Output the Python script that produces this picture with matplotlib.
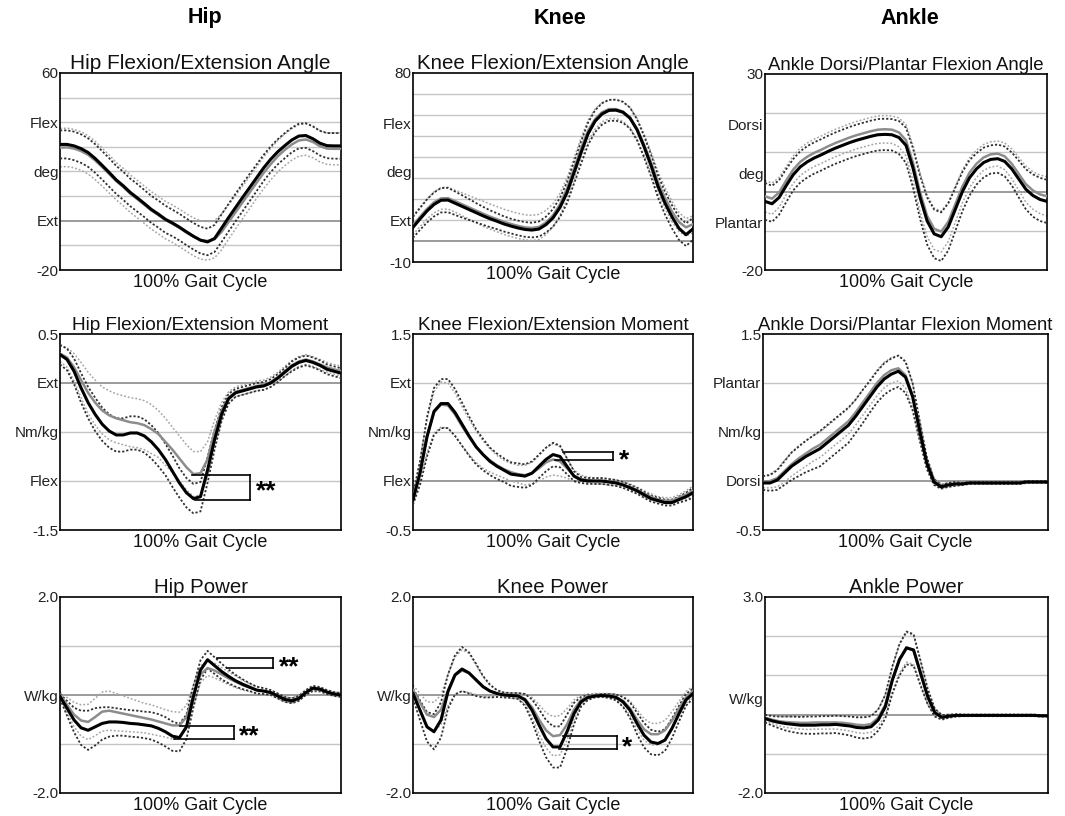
import numpy as np
import matplotlib
matplotlib.use('Agg')
import matplotlib.pyplot as plt

plt.rcParams['font.family'] = ['Liberation Sans', 'DejaVu Sans']

# gait cycle sampling (%)
pct = np.arange(0, 100.1, 2.5)

# ---- data: mean / SD for group A (black) and group B (grey)
hip_ang_a = [31, 31, 30.4, 29.3, 27.7, 25.3, 22.5, 19.6, 16.6, 14.2, 11.5, 9.3, 7, 4.6, 2.7, 0.6, -0.9, -2.6, -4.5, -6.3,
             -7.9, -8.6, -7.2, -3, 1.3, 5.4, 9.5, 13.5, 17.5, 21.5, 25, 28, 30.5, 32.8, 34.4, 34.6, 33.3, 31.5, 30.5, 30.4, 30.4]
hip_ang_b = [29.7, 29.8, 29.3, 28.3, 26.8, 24.5, 21.8, 19, 16.1, 13.7, 11, 8.8, 6.5, 4.2, 2.3, 0.3, -1.2, -2.9, -4.8, -6.5,
             -7.8, -8.2, -7.5, -4.5, -0.5, 3.5, 7.5, 11.5, 15.5, 19.5, 23, 26.2, 28.8, 31, 32.6, 33, 32, 30.3, 29.3, 29.2, 29.2]
hip_ang_sd_a = [5.7, 5.7, 5.8, 5.8, 5.8, 5.8, 5.8, 5.8, 5.7, 5.7, 5.6, 5.6, 5.5, 5.5, 5.5, 5.5, 5.4, 5.4, 5.4, 5.4,
                5.4, 5.4, 5.5, 5.6, 5.6, 5.6, 5.6, 5.5, 5.4, 5.3, 5.2, 5.1, 5.1, 5, 5, 5, 5, 5, 5.1, 5.2, 5.2]
hip_ang_sd_b = [7.8, 7.8, 7.8, 7.8, 7.8, 7.8, 7.7, 7.7, 7.6, 7.6, 7.6, 7.6, 7.6, 7.6, 7.6, 7.6, 7.6, 7.6, 7.6, 7.7,
                7.8, 7.8, 7.6, 7.3, 7, 6.8, 6.6, 6.5, 6.4, 6.4, 6.4, 6.4, 6.4, 6.4, 6.4, 6.4, 6.4, 6.4, 6.4, 6.5, 6.5]

knee_ang_a = [6.5, 10.5, 14.3, 17.4, 19.4, 19.5, 18, 16.5, 15, 13.5, 12, 10.6, 9.4, 8.1, 7.1, 6.2, 5.5, 5.2, 5.7, 7.8,
              11, 16, 23, 32.5, 42, 51, 57, 60.5, 62.2, 62.3, 61.3, 58.5, 53, 45, 36, 26, 18, 11.5, 6, 3, 5.8]
knee_ang_b = [7.5, 11.5, 15.3, 18.4, 20.3, 20.4, 19, 17.5, 16, 14.5, 13, 11.6, 10.4, 9.1, 8.1, 7.2, 6.5, 6.2, 6.7, 8.8,
              12.2, 17.5, 25, 34.5, 44, 52.5, 58, 61.3, 62.8, 62.8, 61.6, 58.8, 53.5, 46, 37.5, 28, 20.5, 14, 9, 6.5, 8]
knee_ang_sd_a = [5, 5.2, 5.5, 5.7, 5.8, 5.8, 5.6, 5.3, 5, 4.6, 4.3, 4, 3.8, 3.6, 3.5, 3.5, 3.5, 3.5, 3.6, 3.8,
                 4.2, 4.6, 5, 5.2, 5.3, 5.3, 5.2, 5.1, 5, 5, 5, 5, 5, 5.1, 5.2, 5.3, 5.4, 5.5, 5.5, 5.4, 5.2]
knee_ang_sd_b = [4.5, 4.6, 4.8, 5, 5.2, 5.2, 5.2, 5.4, 5.6, 5.8, 6, 6, 6, 6, 6, 6, 6, 6, 6, 5.8,
                 5.5, 5.2, 5, 5, 5, 5, 4.8, 4.6, 4.5, 4.5, 4.6, 4.8, 5, 5, 5, 5, 5, 4.8, 4.5, 4.2, 4]

ank_ang_a = [-2.5, -3.1, -1.5, 1.5, 4.3, 6.3, 7.6, 8.6, 9.4, 10.3, 11.1, 11.8, 12.5, 13.1, 13.6, 14.1, 14.5, 14.6, 14.5, 13.8,
             11.8, 6, -1.5, -7.5, -10.8, -11.5, -9, -4.5, 0, 3.5, 5.8, 7.4, 8.2, 8.4, 7.7, 5.8, 3.2, 0.6, -1, -2, -2.5]
ank_ang_b = [-1.2, -1.8, -0.2, 2.8, 5.6, 7.6, 8.9, 9.9, 10.7, 11.6, 12.4, 13.1, 13.8, 14.4, 14.9, 15.4, 15.8, 15.9, 15.8, 15.1,
             13.1, 7.3, -0.2, -6.2, -9.5, -10.2, -7.7, -3.2, 1.3, 4.8, 7.1, 8.7, 9.5, 9.7, 9, 7.1, 4.5, 1.9, 0.3, -0.7, -1.2]
ank_ang_sd_a = [4.7, 4.6, 4.4, 4.2, 4, 4, 4, 4, 4, 4, 4, 4, 4, 4, 4, 4, 4, 4, 4, 4.2,
                4.5, 5, 5.5, 6, 6.2, 6.2, 6, 5.5, 5, 4.5, 4, 3.8, 3.6, 3.6, 3.8, 4.2, 4.7, 5.1, 5.4, 5.5, 5.5]
ank_ang_sd_b = [4, 4, 3.8, 3.6, 3.5, 3.5, 3.5, 3.5, 3.5, 3.5, 3.5, 3.5, 3.5, 3.5, 3.5, 3.5, 3.5, 3.5, 3.5, 3.7,
                4, 4.5, 5, 5.3, 5.3, 5.2, 5, 4.6, 4.2, 3.8, 3.5, 3.3, 3.2, 3.2, 3.4, 3.8, 4.2, 4.6, 4.8, 4.9, 5]

hip_mom_a = [0.29, 0.24, 0.12, -0.05, -0.2, -0.32, -0.42, -0.49, -0.53, -0.53, -0.51, -0.51, -0.54, -0.6, -0.68, -0.78,
             -0.9, -1.02, -1.12, -1.18, -1.16, -0.89, -0.58, -0.32, -0.16, -0.1, -0.08, -0.06, -0.04, -0.03, 0.0, 0.05,
             0.11, 0.17, 0.21, 0.23, 0.21, 0.18, 0.14, 0.12, 0.1]
hip_mom_b = [0.3, 0.26, 0.16, 0.03, -0.1, -0.2, -0.28, -0.33, -0.36, -0.38, -0.4, -0.41, -0.43, -0.47, -0.52, -0.6,
             -0.68, -0.77, -0.86, -0.93, -0.92, -0.78, -0.5, -0.28, -0.15, -0.09, -0.07, -0.05, -0.03, -0.02, 0.01, 0.06,
             0.12, 0.18, 0.22, 0.24, 0.22, 0.19, 0.16, 0.14, 0.12]
hip_mom_sd_a = [0.1, 0.11, 0.13, 0.15, 0.16, 0.17, 0.17, 0.17, 0.17, 0.17, 0.17, 0.17, 0.17, 0.17, 0.17, 0.16, 0.16, 0.15,
                0.15, 0.15, 0.15, 0.13, 0.1, 0.07, 0.05, 0.04, 0.04, 0.04, 0.04, 0.04, 0.04, 0.04, 0.04, 0.05, 0.05, 0.05,
                0.05, 0.05, 0.05, 0.05, 0.05]
hip_mom_sd_b = [0.08, 0.1, 0.14, 0.18, 0.21, 0.23, 0.24, 0.25, 0.25, 0.25, 0.25, 0.25, 0.25, 0.25, 0.24, 0.24, 0.23, 0.23,
                0.23, 0.23, 0.22, 0.18, 0.12, 0.08, 0.06, 0.05, 0.05, 0.05, 0.05, 0.05, 0.05, 0.05, 0.05, 0.05, 0.05, 0.05,
                0.05, 0.05, 0.05, 0.05, 0.05]

knee_mom_a = [-0.19, 0.08, 0.45, 0.71, 0.79, 0.79, 0.7, 0.58, 0.46, 0.35, 0.27, 0.2, 0.15, 0.11, 0.07, 0.06, 0.05, 0.08,
              0.15, 0.22, 0.27, 0.25, 0.15, 0.05, 0.01, 0.0, 0.0, 0.0, -0.01, -0.02, -0.04, -0.07, -0.1, -0.14, -0.18,
              -0.2, -0.22, -0.22, -0.19, -0.16, -0.12]
knee_mom_b = [-0.17, 0.1, 0.46, 0.7, 0.78, 0.77, 0.68, 0.56, 0.45, 0.35, 0.27, 0.21, 0.16, 0.12, 0.09, 0.07, 0.06, 0.08,
              0.13, 0.19, 0.22, 0.2, 0.13, 0.05, 0.02, 0.01, 0.0, 0.0, -0.01, -0.02, -0.04, -0.06, -0.09, -0.13, -0.16,
              -0.19, -0.2, -0.2, -0.17, -0.14, -0.1]
knee_mom_sd_a = [0.05, 0.12, 0.2, 0.24, 0.25, 0.25, 0.24, 0.22, 0.2, 0.18, 0.16, 0.14, 0.13, 0.12, 0.12, 0.12, 0.12, 0.12,
                 0.12, 0.12, 0.12, 0.11, 0.08, 0.05, 0.03, 0.03, 0.03, 0.03, 0.03, 0.03, 0.03, 0.03, 0.03, 0.03, 0.03,
                 0.03, 0.03, 0.03, 0.03, 0.04, 0.05]
knee_mom_sd_b = [0.05, 0.1, 0.17, 0.21, 0.23, 0.23, 0.22, 0.2, 0.18, 0.16, 0.14, 0.12, 0.1, 0.09, 0.09, 0.09, 0.1, 0.11,
                 0.13, 0.15, 0.16, 0.15, 0.1, 0.06, 0.04, 0.03, 0.03, 0.03, 0.03, 0.03, 0.03, 0.03, 0.03, 0.03, 0.03,
                 0.03, 0.03, 0.03, 0.03, 0.04, 0.05]

ank_mom_a = [-0.02, -0.02, 0.01, 0.08, 0.15, 0.2, 0.25, 0.29, 0.33, 0.39, 0.45, 0.51, 0.57, 0.66, 0.76, 0.86, 0.96, 1.04,
             1.09, 1.12, 1.06, 0.86, 0.51, 0.18, -0.01, -0.06, -0.04, -0.03, -0.03, -0.02, -0.02, -0.02, -0.02, -0.02,
             -0.02, -0.02, -0.02, -0.01, -0.01, -0.01, -0.01]
ank_mom_b = [-0.01, 0.0, 0.03, 0.1, 0.17, 0.23, 0.28, 0.33, 0.37, 0.43, 0.49, 0.55, 0.61, 0.7, 0.8, 0.9, 1.0, 1.08,
             1.13, 1.15, 1.08, 0.87, 0.52, 0.19, 0.0, -0.05, -0.04, -0.03, -0.03, -0.02, -0.02, -0.02, -0.02, -0.02,
             -0.02, -0.02, -0.02, -0.01, -0.01, -0.01, -0.01]
ank_mom_sd_a = [0.07, 0.08, 0.1, 0.12, 0.14, 0.15, 0.16, 0.17, 0.18, 0.18, 0.18, 0.18, 0.18, 0.17, 0.17, 0.16, 0.16, 0.16,
                0.16, 0.16, 0.16, 0.14, 0.1, 0.06, 0.03, 0.02, 0.02, 0.02, 0.01, 0.01, 0.01, 0.01, 0.01, 0.01, 0.01,
                0.01, 0.01, 0.01, 0.01, 0.01, 0.01]
ank_mom_sd_b = [0.06, 0.07, 0.09, 0.11, 0.12, 0.13, 0.13, 0.13, 0.13, 0.13, 0.13, 0.13, 0.13, 0.13, 0.13, 0.13, 0.13,
                0.13, 0.13, 0.13, 0.13, 0.12, 0.09, 0.05, 0.03, 0.02, 0.02, 0.02, 0.01, 0.01, 0.01, 0.01, 0.01, 0.01,
                0.01, 0.01, 0.01, 0.01, 0.01, 0.01, 0.01]

hip_pow_a = [-0.03, -0.27, -0.51, -0.67, -0.72, -0.65, -0.58, -0.55, -0.55, -0.56, -0.58, -0.59, -0.61, -0.63, -0.68,
             -0.75, -0.84, -0.87, -0.65, -0.03, 0.51, 0.72, 0.6, 0.48, 0.38, 0.29, 0.22, 0.16, 0.1, 0.08, 0.05, -0.02,
             -0.09, -0.12, -0.07, 0.05, 0.14, 0.12, 0.06, 0.02, 0.0]
hip_pow_b = [0.0, -0.2, -0.4, -0.52, -0.55, -0.45, -0.34, -0.32, -0.35, -0.38, -0.41, -0.44, -0.47, -0.5, -0.54, -0.58,
             -0.62, -0.62, -0.45, 0.0, 0.42, 0.55, 0.5, 0.42, 0.34, 0.27, 0.2, 0.15, 0.1, 0.08, 0.05, -0.02, -0.09,
             -0.11, -0.06, 0.05, 0.12, 0.11, 0.06, 0.02, 0.0]
hip_pow_sd_a = [0.05, 0.15, 0.25, 0.35, 0.4, 0.38, 0.33, 0.3, 0.28, 0.27, 0.27, 0.27, 0.27, 0.28, 0.29, 0.3, 0.3, 0.28,
                0.25, 0.22, 0.2, 0.18, 0.17, 0.16, 0.14, 0.12, 0.1, 0.08, 0.07, 0.06, 0.05, 0.05, 0.05, 0.05, 0.05,
                0.05, 0.05, 0.04, 0.04, 0.04, 0.04]
hip_pow_sd_b = [0.05, 0.15, 0.25, 0.32, 0.36, 0.38, 0.4, 0.4, 0.38, 0.36, 0.34, 0.32, 0.3, 0.3, 0.29, 0.28, 0.28, 0.27,
                0.24, 0.2, 0.17, 0.15, 0.15, 0.14, 0.13, 0.12, 0.1, 0.08, 0.07, 0.06, 0.05, 0.05, 0.05, 0.05, 0.05,
                0.05, 0.05, 0.05, 0.04, 0.04, 0.04]

knee_pow_a = [0.03, -0.31, -0.65, -0.75, -0.51, 0.07, 0.41, 0.53, 0.45, 0.31, 0.17, 0.08, 0.03, 0.0, -0.01, -0.02, -0.1,
              -0.31, -0.61, -0.89, -1.06, -1.06, -0.75, -0.38, -0.14, -0.05, -0.02, -0.01, -0.02, -0.05, -0.14, -0.31,
              -0.58, -0.82, -0.96, -0.99, -0.92, -0.68, -0.38, -0.1, 0.03]
knee_pow_b = [0.1, -0.15, -0.4, -0.45, -0.3, 0.1, 0.4, 0.5, 0.45, 0.31, 0.17, 0.08, 0.03, 0.0, -0.01, -0.02, -0.08,
              -0.25, -0.5, -0.72, -0.84, -0.82, -0.6, -0.3, -0.1, -0.03, 0.0, 0.0, -0.01, -0.04, -0.12, -0.27, -0.5,
              -0.7, -0.8, -0.8, -0.72, -0.52, -0.28, -0.05, 0.08]
knee_pow_sd_a = [0.1, 0.2, 0.3, 0.36, 0.36, 0.35, 0.4, 0.45, 0.42, 0.33, 0.22, 0.13, 0.07, 0.05, 0.05, 0.06, 0.12, 0.22,
                 0.32, 0.38, 0.42, 0.42, 0.35, 0.22, 0.1, 0.05, 0.03, 0.03, 0.04, 0.06, 0.1, 0.16, 0.22, 0.25, 0.25,
                 0.24, 0.22, 0.2, 0.16, 0.12, 0.1]
knee_pow_sd_b = [0.1, 0.18, 0.26, 0.3, 0.3, 0.32, 0.38, 0.42, 0.4, 0.3, 0.2, 0.12, 0.06, 0.05, 0.05, 0.06, 0.1, 0.2,
                 0.3, 0.36, 0.4, 0.4, 0.32, 0.2, 0.1, 0.05, 0.03, 0.03, 0.04, 0.06, 0.1, 0.15, 0.2, 0.22, 0.22, 0.22,
                 0.2, 0.18, 0.15, 0.12, 0.1]

ank_pow_a = [-0.1, -0.16, -0.2, -0.23, -0.25, -0.27, -0.27, -0.27, -0.26, -0.26, -0.25, -0.27, -0.29, -0.33, -0.34,
             -0.31, -0.14, 0.2, 0.88, 1.4, 1.7, 1.65, 1.05, 0.46, 0.05, -0.07, -0.04, -0.02, -0.02, -0.02, -0.02,
             -0.02, -0.02, -0.02, -0.02, -0.02, -0.02, -0.02, -0.02, -0.03, -0.03]
ank_pow_b = [-0.08, -0.13, -0.17, -0.19, -0.2, -0.21, -0.21, -0.2, -0.2, -0.2, -0.2, -0.21, -0.23, -0.26, -0.27, -0.24,
             -0.08, 0.25, 0.9, 1.42, 1.72, 1.64, 1.05, 0.45, 0.05, -0.06, -0.04, -0.02, -0.02, -0.02, -0.02, -0.02,
             -0.02, -0.02, -0.02, -0.02, -0.02, -0.02, -0.02, -0.03, -0.03]
ank_pow_sd_a = [0.1, 0.12, 0.15, 0.18, 0.2, 0.21, 0.22, 0.22, 0.22, 0.22, 0.22, 0.23, 0.24, 0.26, 0.27, 0.27, 0.27, 0.3,
                0.35, 0.4, 0.42, 0.4, 0.32, 0.2, 0.1, 0.06, 0.04, 0.03, 0.02, 0.02, 0.02, 0.02, 0.02, 0.02, 0.02,
                0.02, 0.02, 0.02, 0.02, 0.02, 0.02]
ank_pow_sd_b = [0.08, 0.1, 0.12, 0.14, 0.15, 0.16, 0.17, 0.17, 0.17, 0.17, 0.17, 0.18, 0.19, 0.2, 0.21, 0.21, 0.22,
                0.26, 0.32, 0.36, 0.38, 0.36, 0.28, 0.18, 0.09, 0.05, 0.04, 0.03, 0.02, 0.02, 0.02, 0.02, 0.02, 0.02,
                0.02, 0.02, 0.02, 0.02, 0.02, 0.02, 0.02]

# significance brackets: (panel, x top start, x bottom start, x end, y top, y bottom, stars)
brackets = [
    (3, 47.1, 47.9, 67.6, -0.94, -1.19, '**'),
    (4, 53.7, 50.7, 71.5, 0.30, 0.215, '*'),
    (6, 55.8, 59.4, 75.8, 0.75, 0.56, '**'),
    (6, 42.8, 40.4, 61.8, -0.63, -0.90, '**'),
    (7, 53.7, 52.3, 72.7, -0.84, -1.11, '*'),
]

W, H = 1065, 816
fig = plt.figure(figsize=(W / 100, H / 100), dpi=100)

# panel boxes in pixels (left, top, right, bottom)
panels = [
    dict(box=(60, 73, 341, 270), title='Hip Flexion/Extension Angle', ts=15, ylim=(-20, 60),
         ticks=[(-20, '-20'), (0, 'Ext'), (20, 'deg'), (40, 'Flex'), (60, '60')],
         grid=[-10, 10, 20, 30, 40, 50], data=(hip_ang_a, hip_ang_sd_a, hip_ang_b, hip_ang_sd_b)),
    dict(box=(413, 73, 693, 262), title='Knee Flexion/Extension Angle', ts=14.8, ylim=(-10, 80),
         ticks=[(-10, '-10'), (10, 'Ext'), (33, 'deg'), (56, 'Flex'), (80, '80')],
         grid=[10, 20, 30, 40, 50, 60, 70], data=(knee_ang_a, knee_ang_sd_a, knee_ang_b, knee_ang_sd_b)),
    dict(box=(765, 74, 1047, 270), title='Ankle Dorsi/Plantar Flexion Angle', ts=13.4, ylim=(-20, 30),
         ticks=[(-20, '-20'), (-7.8, 'Plantar'), (4.7, 'deg'), (17, 'Dorsi'), (30, '30')],
         grid=[-10, 10, 20], data=(ank_ang_a, ank_ang_sd_a, ank_ang_b, ank_ang_sd_b)),
    dict(box=(60, 334, 341, 530), title='Hip Flexion/Extension Moment', ts=13.7, ylim=(-1.5, 0.5),
         ticks=[(-1.5, '-1.5'), (-1.0, 'Flex'), (-0.5, 'Nm/kg'), (0, 'Ext'), (0.5, '0.5')],
         grid=[-1.0, -0.5], data=(hip_mom_a, hip_mom_sd_a, hip_mom_b, hip_mom_sd_b)),
    dict(box=(413, 334, 693, 530), title='Knee Flexion/Extension Moment', ts=13.6, ylim=(-0.5, 1.5),
         ticks=[(-0.5, '-0.5'), (0, 'Flex'), (0.5, 'Nm/kg'), (1.0, 'Ext'), (1.5, '1.5')],
         grid=[0.5, 1.0], data=(knee_mom_a, knee_mom_sd_a, knee_mom_b, knee_mom_sd_b)),
    dict(box=(763, 334, 1048, 530), title='Ankle Dorsi/Plantar Flexion Moment', ts=13.3, ylim=(-0.5, 1.5),
         ticks=[(-0.5, '-0.5'), (0, 'Dorsi'), (0.5, 'Nm/kg'), (1.0, 'Plantar'), (1.5, '1.5')],
         grid=[0.5, 1.0], data=(ank_mom_a, ank_mom_sd_a, ank_mom_b, ank_mom_sd_b)),
    dict(box=(60, 597, 341, 793), title='Hip Power', ts=14.7, ylim=(-2.0, 2.0),
         ticks=[(-2.0, '-2.0'), (0, 'W/kg'), (2.0, '2.0')],
         grid=[-1.0, 1.0], data=(hip_pow_a, hip_pow_sd_a, hip_pow_b, hip_pow_sd_b)),
    dict(box=(413, 597, 693, 793), title='Knee Power', ts=14.7, ylim=(-2.0, 2.0),
         ticks=[(-2.0, '-2.0'), (0, 'W/kg'), (2.0, '2.0')],
         grid=[-1.0, 1.0], data=(knee_pow_a, knee_pow_sd_a, knee_pow_b, knee_pow_sd_b)),
    dict(box=(765, 597, 1048, 793), title='Ankle Power', ts=14.7, ylim=(-2.0, 3.0),
         ticks=[(-2.0, '-2.0'), (0.4, 'W/kg'), (3.0, '3.0')],
         grid=[-1.0, 1.0, 2.0], data=(ank_pow_a, ank_pow_sd_a, ank_pow_b, ank_pow_sd_b)),
]

axes = []
for p in panels:
    l, t, r, b = p['box']
    ax = fig.add_axes([l / W, 1 - b / H, (r - l) / W, (b - t) / H])
    for g in p['grid']:
        ax.axhline(g, color='#c6c6c6', lw=1.0, zorder=1)
    ax.axhline(0, color='#808080', lw=1.1, zorder=1)

    ma, sa, mb, sb = [np.array(v) for v in p['data']]
    for sgn in (1, -1):
        ax.plot(pct, mb + sgn * sb, color='#a5a5a5', lw=1.1, ls=(0, (1.2, 1.3)), zorder=2)
        ax.plot(pct, ma + sgn * sa, color='#303030', lw=1.3, ls=(0, (1.2, 1.1)), zorder=3)
    ax.plot(pct, mb, color='#8c8c8c', lw=1.8, zorder=4)
    ax.plot(pct, ma, color='black', lw=2.2, zorder=5)

    ax.set_xlim(0, 100)
    ax.set_ylim(*p['ylim'])
    ax.set_xticks([])
    ax.set_yticks([v for v, _ in p['ticks']])
    ax.set_yticklabels([s for _, s in p['ticks']])
    ax.tick_params(axis='y', length=0, pad=1, labelsize=11, labelcolor='#222222')
    ax.set_title(p['title'], fontsize=p['ts'], pad=2, color='#111111')
    ax.set_xlabel('100% Gait Cycle', fontsize=13, labelpad=3, color='#111111')
    for s in ax.spines.values():
        s.set_linewidth(1.2)
    axes.append(ax)

for i, xt, xb, xe, yt, yb, stars in brackets:
    ax = axes[i]
    ax.plot([xt, xe], [yt, yt], color='black', lw=1.2, zorder=6)
    ax.plot([xb, xe], [yb, yb], color='black', lw=1.2, zorder=6)
    ax.plot([xe, xe], [yt, yb], color='black', lw=1.2, zorder=6)
    ax.annotate(stars, xy=(xe, (yt + yb) / 2), xytext=(4, -3), textcoords='offset points',
                fontsize=19, fontweight='bold', ha='left', va='center', zorder=6)

# column headers
for x, name in [(205, 'Hip'), (560, 'Knee'), (910, 'Ankle')]:
    fig.text(x / W, 1 - 18 / H, name, ha='center', va='center', fontsize=15.5, fontweight='bold')

fig.savefig('out.png', dpi=100)
